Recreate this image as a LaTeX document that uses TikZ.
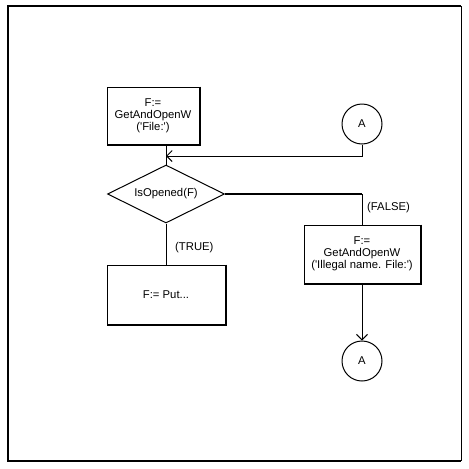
\documentclass[tikz,border=0pt]{standalone}
\usepackage{fontspec}
\setmainfont{Liberation Sans}
\usetikzlibrary{arrows.meta,positioning,shapes.geometric}

\begin{document}
\begin{tikzpicture}[
  x=1pt, y=-1pt,
  font=\fontsize{11.3}{12}\selectfont,
  node distance=41pt,
  box/.style={draw,line width=1pt,align=center,inner sep=0pt},
  test/.style={draw,diamond,line width=1pt,aspect=2,inner sep=0pt,minimum width=117pt,minimum height=58pt},
  conn/.style={draw,circle,line width=1pt,minimum size=40pt,inner sep=0pt},
  line/.style={line width=1pt},
  arr/.style={-{Straight Barb[length=5.5pt,width=11pt]},line width=1pt},
  lbl/.style={anchor=west,inner sep=0pt}
]
\useasboundingbox (0,0) rectangle (469,469);
\draw[line width=2pt] (461,6) -- (8,6) -- (8,461) -- (461,461);
\draw[line] (461,6) -- (461,461);

\node[box,minimum width=92pt,minimum height=57pt] (open) at (153,115.5) {F:=\\GetAndOpenW\\(\textquotesingle File:\textquotesingle)};
\node[test] (opened) at (166,194) {IsOpened(F)};
\node[box,minimum width=118pt,minimum height=59pt,below=of opened] (put) {F:= Put...};
\node[box,minimum width=116pt,minimum height=58pt] (reopen) at (362,254) {F:=\\GetAndOpenW\\(\textquotesingle Illegal name. File:\textquotesingle)};
\node[conn,above=80pt of reopen] (contin) {A};
\node[conn,below=57pt of reopen] (contout) {A};
\foreach \b in {open,put,reopen}
  \draw[line width=2pt] (\b.north east) -- (\b.south east) -- (\b.south west);

\coordinate (merge) at (opened.north |- 0,156);
\draw[line] (open.south -| opened.north) -- (opened.north);
\draw[arr] (contin.south) |- (merge);
\draw[line width=2pt] (opened.east) -- (opened.east -| reopen.north) coordinate (turn);
\draw[line] (turn) -- (reopen.north);
\draw[line] (opened.south) -- (put.north);
\draw[arr] (reopen.south) -- (contout.north);
\node[lbl] (false) at (367,208) {(FALSE)};
\node[lbl] (true) at (175,248) {(TRUE)};
\end{tikzpicture}
\end{document}
